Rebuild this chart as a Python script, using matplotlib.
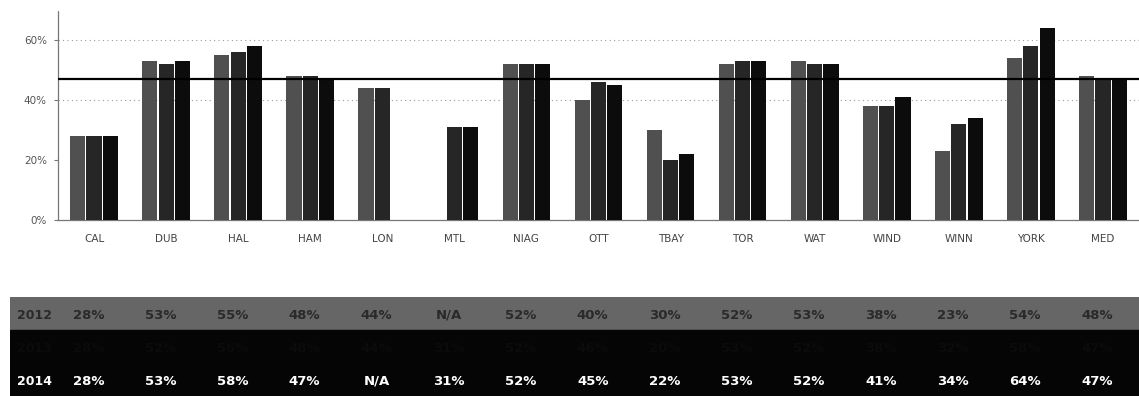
import numpy as np
import matplotlib.pyplot as plt

# 2012 / 2013 / 2014 rates by site (NaN = no data)
sites = ["CAL", "DUB", "HAL", "HAM", "LON", "MTL", "NIAG", "OTT",
         "TBAY", "TOR", "WAT", "WIND", "WINN", "YORK", "MED"]
years = ["2012", "2013", "2014"]
v2012 = [28, 53, 55, 48, 44, np.nan, 52, 40, 30, 52, 53, 38, 23, 54, 48]
v2013 = [28, 52, 56, 48, 44, 31, 52, 46, 20, 53, 52, 38, 32, 58, 47]
v2014 = [28, 53, 58, 47, np.nan, 31, 52, 45, 22, 53, 52, 41, 34, 64, 47]
median_line = 47
yticks = [0, 20, 40, 60]

series = [v2012, v2013, v2014]
bar_colors = ["#505050", "#262626", "#0c0c0c"]
row_bg = ["#666666", "#050505", "#050505"]
row_fg = ["#2a2a2a", "#0b0b0b", "#ffffff"]

fig = plt.figure(figsize=(11.39, 3.96), dpi=100)

# bar chart
ax = fig.add_axes([58 / 1139, 176 / 396, 1 - 58 / 1139, 210 / 396])
x = np.arange(len(sites))
step = 0.226
for k, vals in enumerate(series):
    ax.bar(x + (k - 1) * step, vals, width=0.21, color=bar_colors[k], zorder=3)

ax.axhline(median_line, color="black", lw=1.6, zorder=4)
for g in [40, 60]:
    ax.axhline(g, color="#9a9a9a", lw=0.8, ls=(0, (1, 3)), zorder=1)

ax.set_xlim(-0.5, len(sites) - 0.5)
ax.set_ylim(0, 70)
ax.set_yticks(yticks)
ax.set_yticklabels([f"{t}%" for t in yticks], fontsize=7.5, color="#555555")
ax.set_xticks(x)
ax.set_xticklabels(sites, fontsize=7.5, color="#444444")
ax.tick_params(axis="x", length=0, pad=10)
ax.tick_params(axis="y", length=3, color="#777777", pad=5)
for s in ["top", "right"]:
    ax.spines[s].set_visible(False)
for s in ["left", "bottom"]:
    ax.spines[s].set_linestyle((0, (1, 1)))
    ax.spines[s].set_color("#777777")
    ax.spines[s].set_linewidth(0.9)

# data table under the chart
tleft = 10 / 1139
tab = fig.add_axes([tleft, 0, 1 - tleft, 99 / 396])
xl = -0.5 - 48 / 72.07
tab.set_xlim(xl, len(sites) - 0.5)
tab.set_ylim(0, 3)
tab.axis("off")
for r, (yr, vals) in enumerate(zip(years, series)):
    ytop = 3 - r
    tab.axhspan(ytop - 1, ytop, color=row_bg[r], zorder=0)
    yc = ytop - 0.55
    tab.text(-0.82, yc, yr, ha="center", va="center", fontsize=9,
             fontweight="bold", color=row_fg[r])
    for i, v in enumerate(vals):
        lab = "N/A" if np.isnan(v) else f"{v:.0f}%"
        tab.text(i - 0.08, yc, lab, ha="center", va="center", fontsize=9.5,
                 fontweight="bold", color=row_fg[r])

fig.savefig("out.png", dpi=100)
